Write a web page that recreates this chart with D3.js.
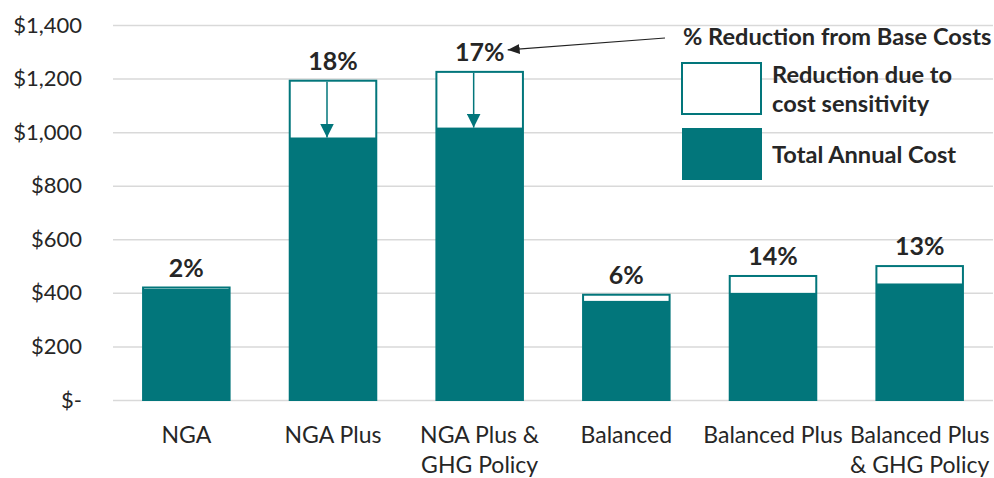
<!DOCTYPE html>
<html>
<head>
<meta charset="utf-8">
<script src="https://cdn.jsdelivr.net/npm/d3@7"></script>
<style>
  body { margin: 0; background: #fff; }
  text { font-family: Lato, "Noto Sans", sans-serif; fill: #262626; }
</style>
</head>
<body>
<div id="chart"></div>
<script>
// chart data
const categories = ["NGA", "NGA Plus", "NGA Plus & GHG Policy", "Balanced", "Balanced Plus", "Balanced Plus & GHG Policy"];
const labelLines = [["NGA"], ["NGA Plus"], ["NGA Plus &", "GHG Policy"], ["Balanced"], ["Balanced Plus"], ["Balanced Plus", "& GHG Policy"]];
const baseCost = [420, 1192, 1225, 393, 463, 500];
const totalCost = [415, 980, 1017, 370, 400, 435];
const pctLabels = ["2%", "18%", "17%", "6%", "14%", "13%"];
const yTicks = [0, 200, 400, 600, 800, 1000, 1200, 1400];
const arrowBars = [1, 2]; // bars with a down arrow inside

const W = 994, H = 478;
const teal = "#02767b";
const plotLeft = 113, plotRight = 993, plotTop = 25, plotBottom = 400;

const svg = d3.select("#chart").append("svg")
    .attr("width", W)
    .attr("height", H);

const x = d3.scaleBand()
    .domain(categories)
    .range([plotLeft, plotRight])
    .paddingInner(0.41)
    .paddingOuter(0.205);

const y = d3.scaleLinear()
    .domain([0, 1400])
    .range([plotBottom, plotTop]);

const fmt = d => d === 0 ? "$-" : d3.format("$,")(d);

// y axis with gridlines
const yAxis = svg.append("g")
    .attr("transform", `translate(${plotLeft},0)`)
    .call(d3.axisLeft(y).tickValues(yTicks).tickFormat(fmt)
        .tickSize(-(plotRight - plotLeft)).tickPadding(31));
yAxis.select(".domain").remove();
yAxis.selectAll(".tick line").attr("stroke", "#d9d9d9").attr("stroke-width", 1.5);
yAxis.selectAll(".tick text").attr("font-size", 22).attr("fill", "#262626")
    .attr("font-family", "Lato, sans-serif");

// bars: base (outlined) then total (filled)
const bars = svg.append("g").selectAll("g")
    .data(categories)
    .enter().append("g");

bars.append("rect")
    .attr("x", d => x(d))
    .attr("width", x.bandwidth())
    .attr("y", (d, i) => y(baseCost[i]))
    .attr("height", (d, i) => y(0) - y(baseCost[i]))
    .attr("fill", "#fff")
    .attr("stroke", teal)
    .attr("stroke-width", 2);

bars.append("rect")
    .attr("x", d => x(d))
    .attr("width", x.bandwidth())
    .attr("y", (d, i) => y(totalCost[i]))
    .attr("height", (d, i) => y(0) - y(totalCost[i]))
    .attr("fill", teal);

// percentage labels
bars.append("text")
    .attr("x", d => x(d) + x.bandwidth() / 2)
    .attr("y", (d, i) => y(baseCost[i]) - 11)
    .attr("text-anchor", "middle")
    .attr("font-size", 25)
    .attr("font-weight", "bold")
    .text((d, i) => pctLabels[i]);

// arrows inside bars
const defs = svg.append("defs");
defs.append("marker")
    .attr("id", "tealHead")
    .attr("viewBox", "0 0 14 14")
    .attr("refX", 14).attr("refY", 7)
    .attr("markerWidth", 14).attr("markerHeight", 14)
    .attr("markerUnits", "userSpaceOnUse")
    .attr("orient", "auto")
    .append("path").attr("d", "M0,0 L14,7 L0,14 Z").attr("fill", teal);
defs.append("marker")
    .attr("id", "darkHead")
    .attr("viewBox", "0 0 12 10")
    .attr("refX", 12).attr("refY", 5)
    .attr("markerWidth", 12).attr("markerHeight", 10)
    .attr("markerUnits", "userSpaceOnUse")
    .attr("orient", "auto")
    .append("path").attr("d", "M0,0 L12,5 L0,10 Z").attr("fill", "#222");

svg.append("g").selectAll("line")
    .data(arrowBars)
    .enter().append("line")
    .attr("x1", i => x(categories[i]) + x.bandwidth() / 2 - 6)
    .attr("x2", i => x(categories[i]) + x.bandwidth() / 2 - 6)
    .attr("y1", i => y(baseCost[i]) + 1)
    .attr("y2", i => y(totalCost[i]))
    .attr("stroke", teal)
    .attr("stroke-width", 1.5)
    .attr("marker-end", "url(#tealHead)");

// x axis labels
const xl = svg.append("g").selectAll("text")
    .data(categories)
    .enter().append("text")
    .attr("x", d => x(d) + x.bandwidth() / 2)
    .attr("y", 443)
    .attr("text-anchor", "middle")
    .attr("font-size", 23);
xl.selectAll("tspan")
    .data((d, i) => labelLines[i])
    .enter().append("tspan")
    .attr("x", function () { return this.parentNode.getAttribute("x"); })
    .attr("dy", (d, j) => j === 0 ? 0 : 30)
    .text(d => d);

// legend
const lg = svg.append("g");
lg.append("text")
    .attr("x", 683).attr("y", 45)
    .attr("font-size", 23.6)
    .attr("font-weight", "bold")
    .text("% Reduction from Base Costs");
lg.append("rect")
    .attr("x", 682).attr("y", 63).attr("width", 79).attr("height", 51)
    .attr("fill", "#fff").attr("stroke", teal).attr("stroke-width", 2);
lg.append("rect")
    .attr("x", 682).attr("y", 128).attr("width", 80).attr("height", 52)
    .attr("fill", teal);
lg.append("text")
    .attr("x", 772).attr("y", 83)
    .attr("font-size", 23.6).attr("font-weight", "bold")
    .text("Reduction due to");
lg.append("text")
    .attr("x", 772).attr("y", 112)
    .attr("font-size", 23.6).attr("font-weight", "bold")
    .text("cost sensitivity");
lg.append("text")
    .attr("x", 772).attr("y", 163)
    .attr("font-size", 23.6).attr("font-weight", "bold")
    .text("Total Annual Cost");

// pointer from legend title to the 17% label
const c3 = x(categories[2]) + x.bandwidth() / 2;
svg.append("line")
    .attr("x1", 665).attr("y1", 38)
    .attr("x2", c3 + 28).attr("y2", y(baseCost[2]) - 22)
    .attr("stroke", "#222")
    .attr("stroke-width", 1.2)
    .attr("marker-end", "url(#darkHead)");
</script>
</body>
</html>
